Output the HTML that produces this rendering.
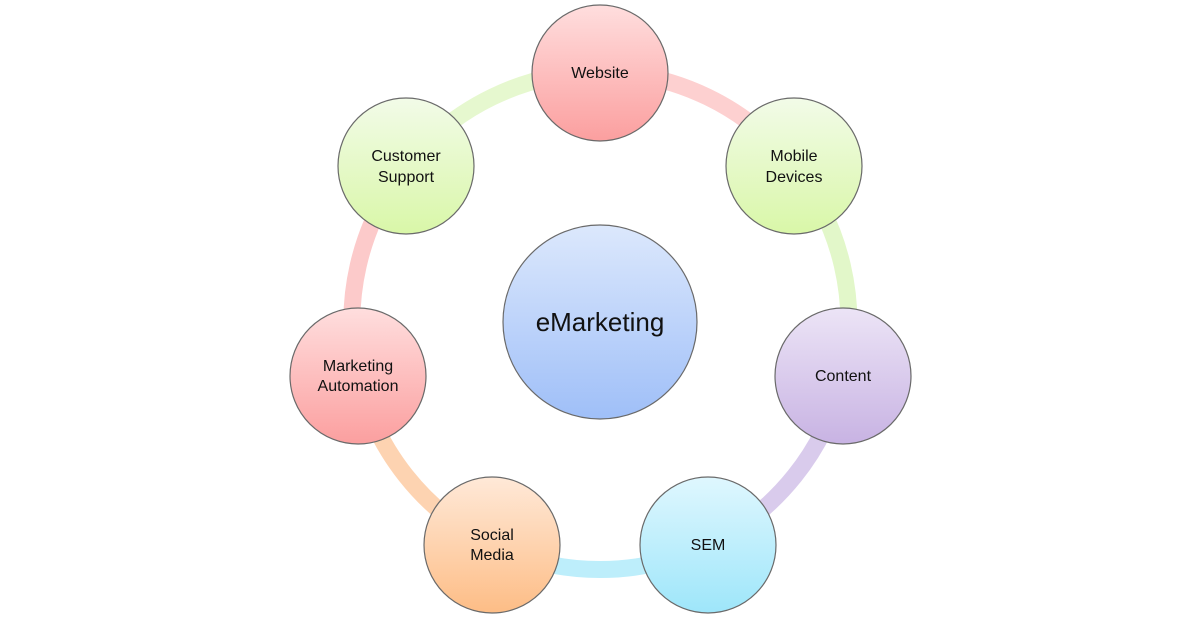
<!DOCTYPE html>
<html><head><meta charset="utf-8"><style>
html,body{margin:0;padding:0;background:#fff;width:1200px;height:623px;overflow:hidden}
text{font-family:"Liberation Sans",sans-serif;fill:#111}
</style></head><body>
<svg width="1200" height="623" viewBox="0 0 1200 623" xmlns="http://www.w3.org/2000/svg">
<defs>
<linearGradient id="gRed" x1="0" y1="0" x2="0" y2="1"><stop offset="0" stop-color="#ffdede"/><stop offset="1" stop-color="#fb9f9f"/></linearGradient>
<linearGradient id="gGreen" x1="0" y1="0" x2="0" y2="1"><stop offset="0" stop-color="#f2fbe8"/><stop offset="1" stop-color="#d9f7a8"/></linearGradient>
<linearGradient id="gPurple" x1="0" y1="0" x2="0" y2="1"><stop offset="0" stop-color="#ece4f6"/><stop offset="1" stop-color="#c8b3e3"/></linearGradient>
<linearGradient id="gBlue" x1="0" y1="0" x2="0" y2="1"><stop offset="0" stop-color="#dff7fe"/><stop offset="1" stop-color="#9ee6fa"/></linearGradient>
<linearGradient id="gOrange" x1="0" y1="0" x2="0" y2="1"><stop offset="0" stop-color="#ffe9d8"/><stop offset="1" stop-color="#fdbd86"/></linearGradient>
<linearGradient id="gCenter" x1="0" y1="0" x2="0" y2="1"><stop offset="0" stop-color="#dce8fc"/><stop offset="1" stop-color="#9fbff8"/></linearGradient>
</defs>
<g fill="none" stroke-width="17">
<path d="M600 72 A250 250 0 0 1 794 166" stroke="#fdd0d0"/>
<path d="M794 166 A250 250 0 0 1 843 376" stroke="#e2f7c9"/>
<path d="M843 376 A250 250 0 0 1 708 545" stroke="#d9cbec"/>
<path d="M708 545 A250 250 0 0 1 492 545" stroke="#bdeefb"/>
<path d="M492 545 A250 250 0 0 1 358 376" stroke="#fdd3b1"/>
<path d="M358 376 A250 250 0 0 1 406 166" stroke="#fccaca"/>
<path d="M406 166 A250 250 0 0 1 600 72" stroke="#e6f8cf"/>
</g>
<g stroke="#6a6a6a" stroke-width="1.2">
<circle cx="600" cy="322" r="97" fill="url(#gCenter)"/>
<circle cx="600" cy="73" r="68" fill="url(#gRed)"/>
<circle cx="794" cy="166" r="68" fill="url(#gGreen)"/>
<circle cx="843" cy="376" r="68" fill="url(#gPurple)"/>
<circle cx="708" cy="545" r="68" fill="url(#gBlue)"/>
<circle cx="492" cy="545" r="68" fill="url(#gOrange)"/>
<circle cx="358" cy="376" r="68" fill="url(#gRed)"/>
<circle cx="406" cy="166" r="68" fill="url(#gGreen)"/>
</g>
<g font-size="16" text-anchor="middle">
<text x="600" y="331" font-size="26">eMarketing</text>
<text x="600" y="78">Website</text>
<text x="794" y="161">Mobile</text><text x="794" y="182">Devices</text>
<text x="843" y="381">Content</text>
<text x="708" y="550">SEM</text>
<text x="492" y="540">Social</text><text x="492" y="560">Media</text>
<text x="358" y="371">Marketing</text><text x="358" y="391">Automation</text>
<text x="406" y="161">Customer</text><text x="406" y="182">Support</text>
</g>
</svg>
</body></html>
